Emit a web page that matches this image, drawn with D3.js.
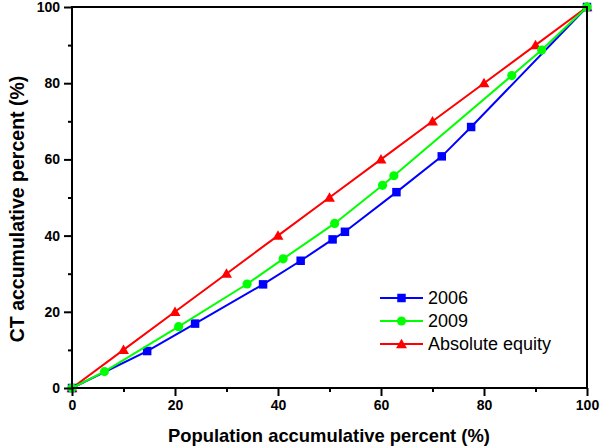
<!DOCTYPE html>
<html>
<head>
<meta charset="utf-8">
<script src="https://cdn.jsdelivr.net/npm/d3@7"></script>
<style>
  html, body { margin: 0; padding: 0; background: #fff; }
  svg { display: block; font-family: "Liberation Sans", Arial, sans-serif; }
</style>
</head>
<body>
<svg id="chart" width="600" height="447"></svg>
<script>
// ---- data ----
const x2006 = [0, 14.6, 23.9, 37.1, 44.4, 50.6, 53.0, 63.0, 71.8, 77.5, 100];
const y2006 = [0, 9.7, 16.9, 27.2, 33.4, 39.0, 41.0, 51.4, 60.8, 68.5, 100];
const x2009 = [0, 6.3, 20.7, 34.0, 41.0, 51.0, 60.3, 62.5, 85.4, 91.2, 100];
const y2009 = [0, 4.3, 16.1, 27.3, 33.9, 43.2, 53.2, 55.7, 82.0, 88.7, 100];
const xEquity = [0, 10, 20, 30, 40, 50, 60, 70, 80, 90, 100];
const yEquity = [0, 10, 20, 30, 40, 50, 60, 70, 80, 90, 100];
const seriesNames = ["2006", "2009", "Absolute equity"];
const xTicks = [0, 20, 40, 60, 80, 100];
const yTicks = [0, 20, 40, 60, 80, 100];
const minorTicks = [10, 30, 50, 70, 90];

const svg = d3.select("#chart");
const L = 72, R = 587, T = 7, B = 388;
const x = d3.scaleLinear().domain([0, 100]).range([L, R]);
const y = d3.scaleLinear().domain([0, 100]).range([B, T]);

const series = [
  { name: seriesNames[2], color: "#ff0000", sym: d3.symbolTriangle, size: 52, xs: xEquity, ys: yEquity },
  { name: seriesNames[0], color: "#0000ff", sym: d3.symbolSquare, size: 72, xs: x2006, ys: y2006 },
  { name: seriesNames[1], color: "#00ff00", sym: d3.symbolCircle, size: 66, xs: x2009, ys: y2009 }
];

// lines and markers
const line = d3.line().x(d => x(d[0])).y(d => y(d[1]));
series.forEach(s => {
  const pts = s.xs.map((v, i) => [v, s.ys[i]]);
  svg.append("path").datum(pts)
    .attr("d", line).attr("fill", "none")
    .attr("stroke", s.color).attr("stroke-width", 2);
  svg.selectAll(null).data(pts).enter().append("path")
    .attr("d", d3.symbol().type(s.sym).size(s.size))
    .attr("transform", d => `translate(${x(d[0])},${y(d[1]) + (s.sym === d3.symbolTriangle ? 1 : 0)})`)
    .attr("fill", s.color);
});

// axes
const fmt = d3.format("d");
svg.append("g").attr("transform", `translate(0,${B})`)
  .call(d3.axisBottom(x).tickValues(xTicks).tickFormat(fmt).tickSize(8).tickPadding(4));
svg.append("g").attr("transform", `translate(0,${B})`)
  .call(d3.axisBottom(x).tickValues(minorTicks).tickFormat("").tickSize(4));
svg.append("g").attr("transform", `translate(${L},0)`)
  .call(d3.axisLeft(y).tickValues(yTicks).tickFormat(fmt).tickSize(8).tickPadding(4));
svg.append("g").attr("transform", `translate(${L},0)`)
  .call(d3.axisLeft(y).tickValues(minorTicks).tickFormat("").tickSize(4));
svg.selectAll(".domain").remove();
svg.selectAll(".tick line").attr("stroke", "#000").attr("stroke-width", 2);
svg.selectAll(".tick text").attr("font-size", 14).attr("font-weight", "bold")
  .attr("font-family", "Liberation Sans, Arial, sans-serif").attr("fill", "#000");

// frame
svg.append("rect").attr("x", L).attr("y", T).attr("width", R - L).attr("height", B - T)
  .attr("fill", "none").attr("stroke", "#000").attr("stroke-width", 2);

// axis titles
svg.append("text").attr("x", 329).attr("y", 442).attr("text-anchor", "middle")
  .attr("font-size", 18.4).attr("font-weight", "bold").text("Population accumulative percent (%)");
svg.append("text").attr("transform", "translate(24,209) rotate(-90)").attr("text-anchor", "middle")
  .attr("font-size", 19.5).attr("font-weight", "bold").text("CT accumulative percent (%)");

// legend
const legendOrder = [series[1], series[2], series[0]];
const lg = svg.append("g");
legendOrder.forEach((s, i) => {
  const yy = 298 + i * 23;
  lg.append("line").attr("x1", 380).attr("x2", 423).attr("y1", yy).attr("y2", yy)
    .attr("stroke", s.color).attr("stroke-width", 2);
  lg.append("path").attr("d", d3.symbol().type(s.sym).size(s.size))
    .attr("transform", `translate(401.5,${yy + (s.sym === d3.symbolTriangle ? 1 : 0)})`).attr("fill", s.color);
  lg.append("text").attr("x", 428).attr("y", yy + 6).attr("font-size", 18).text(s.name);
});
</script>
</body>
</html>
